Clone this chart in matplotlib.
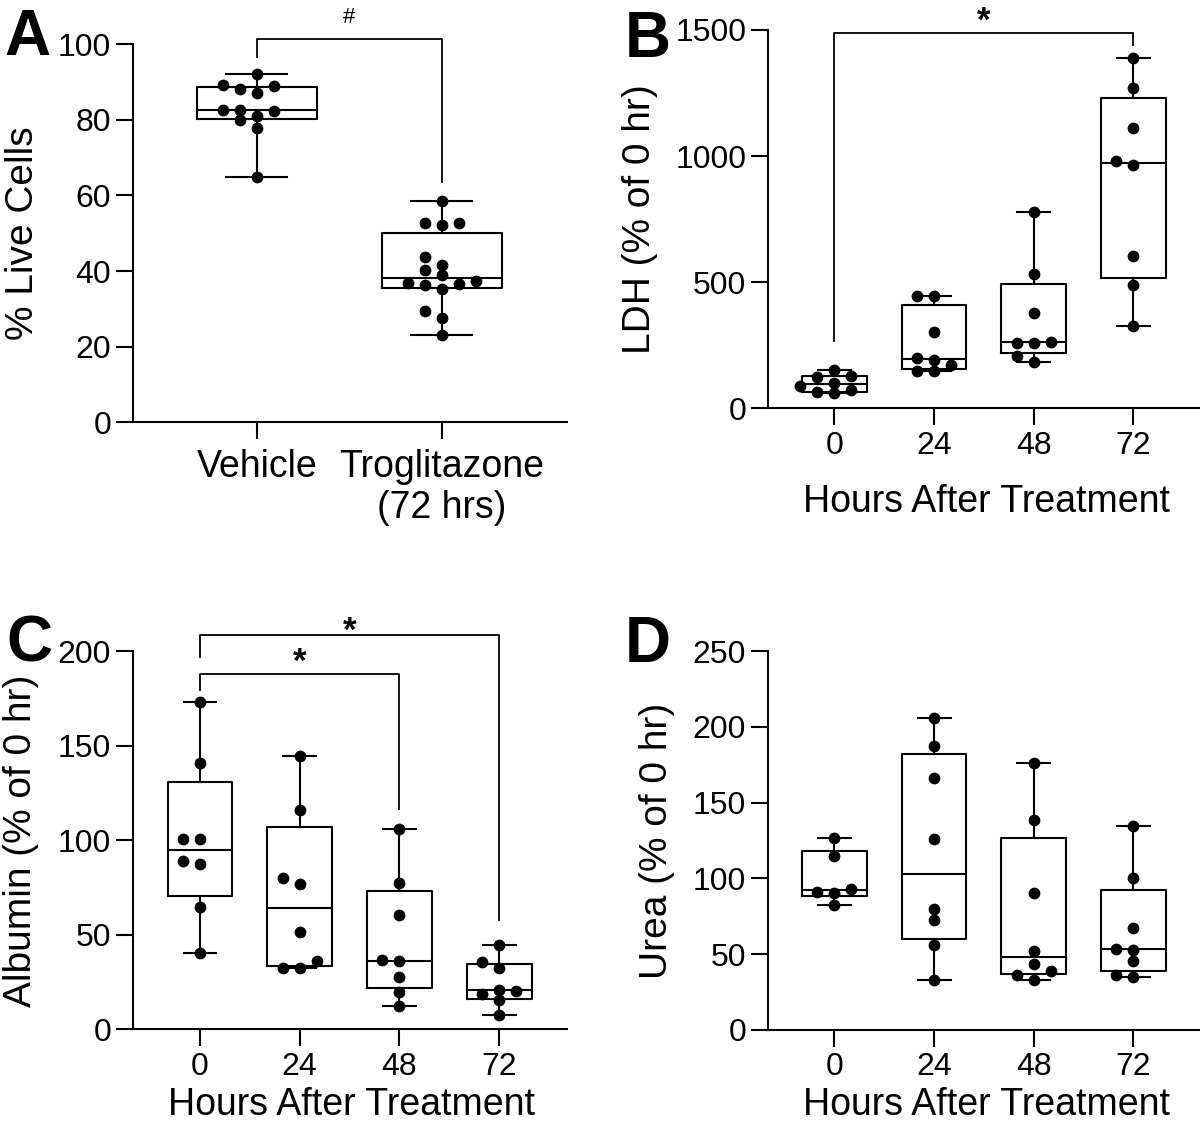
import numpy as np
import matplotlib
matplotlib.use('Agg')
import matplotlib.pyplot as plt
from matplotlib.transforms import offset_copy

plt.rcParams['font.family'] = ['Liberation Sans', 'DejaVu Sans']

# データ (値は図から読み取り)
a_groups = ['Vehicle', 'Troglitazone\n(72 hrs)']
vehicle = [92.1, 89.3, 88.9, 88.0, 87.0, 82.7, 82.7, 82.3, 81.1, 79.9, 77.9, 64.9]
trog = [58.6, 52.7, 52.2, 52.7, 43.8, 41.7, 40.4, 39.0, 37.4, 36.9, 36.7, 36.4,
        35.3, 29.4, 27.6, 23.1]

hours = ['0', '24', '48', '72']
ldh_0 = [152, 130, 125, 102, 88, 72, 63, 60]
ldh_24 = [447, 445, 303, 198, 191, 173, 148, 148]
ldh_48 = [779, 533, 376, 262, 260, 257, 209, 182]
ldh_72 = [1389, 1268, 1113, 981, 963, 605, 488, 328]

alb_0 = [173, 141, 100.7, 100.7, 88.9, 87.6, 64.7, 40.6]
alb_24 = [144.7, 115.9, 80, 76.7, 51.7, 35.9, 32.6, 32.6]
alb_48 = [106, 77.4, 60.5, 36.5, 35.9, 27.5, 19.7, 12.3]
alb_72 = [44.8, 35.5, 32.2, 21, 20.1, 18.6, 15.4, 7.4]

urea_0 = [126.5, 114.9, 93.3, 91, 90.1, 82.4]
urea_24 = [206.1, 187.6, 166, 125.8, 79.6, 72.7, 55.7, 33.2]
urea_48 = [176, 138.3, 90.5, 52.2, 43.6, 38.8, 36, 33]
urea_72 = [134.6, 100.5, 66.9, 53.4, 52.7, 45.7, 36.4, 34.8]

# 有意差の括弧: (群1, 群2, 左脚の下端, 上端, 右脚の下端, 記号, 記号の高さ)
a_sig = [(0, 1, 96.6, 101.4, 63.6, '#', 107)]
b_sig = [(0, 3, 266, 1489, 1441, '*', 1575)]
c_sig = [(0, 3, 196.8, 208.6, 57.7, '*', 216.4),
         (0, 2, 179.7, 187.9, 116.5, '*', 199.6)]
d_sig = []

LW = 1.5
STEP_PX = 17
SEP_PX = 10


def swarm_x(ax, pos, values):
    # 点が重ならないように横にずらす
    p0 = ax.transData.transform((0, 0))
    p1 = ax.transData.transform((1, 1))
    xpu = p1[0] - p0[0]
    ypu = p1[1] - p0[1]
    order = np.argsort(values)
    placed = []
    xs = np.zeros(len(values))
    for i in order:
        y = values[i] * ypu
        for slot in [0, -1, 1, -2, 2, -3, 3]:
            if all(not (s == slot and abs(y - yy) < SEP_PX) for s, yy in placed):
                break
        placed.append((slot, y))
        xs[i] = pos + slot * STEP_PX / xpu
    return xs


def panel(ax, groups, labels, ymax, yticks, xlim, sig, ylabel):
    ax.set_xlim(*xlim)
    ax.set_ylim(0, ymax)
    pos = np.arange(len(groups))
    stats = []
    for g in groups:
        q1, med, q3 = np.percentile(g, [25, 50, 75], method='weibull')
        stats.append(dict(med=med, q1=q1, q3=q3, whislo=min(g), whishi=max(g), fliers=[]))
    lp = dict(color='black', linewidth=LW)
    ax.bxp(stats, positions=pos, widths=0.65, capwidths=0.33, showfliers=False,
           boxprops=lp, medianprops=lp, whiskerprops=lp, capprops=lp)
    for p, g in zip(pos, groups):
        ax.scatter(swarm_x(ax, p, g), g, s=72, color='black', zorder=3, linewidths=0)
    for x0, x1, y0, yt, y1, mark, ym in sig:
        ax.plot([x0, x0, x1, x1], [y0, yt, yt, y1], color='black', lw=1.3,
                clip_on=False)
        if mark == '#':
            ax.text((x0 + x1) / 2, ym, mark, ha='center', va='center', fontsize=16)
        else:
            tr = offset_copy(ax.transData, fig=ax.figure, y=-0.58 * 25, units='points')
            ax.text((x0 + x1) / 2, ym, mark, ha='center', va='baseline', fontsize=25,
                    fontweight='bold', transform=tr)
    ax.set_xticks(pos, labels)
    ax.set_yticks(yticks)
    for s in ['top', 'right']:
        ax.spines[s].set_visible(False)
    for s in ['left', 'bottom']:
        ax.spines[s].set_linewidth(LW)
    ax.tick_params(axis='both', length=12, width=LW, labelsize=23, color='black')
    ax.tick_params(axis='y', pad=4)
    ax.tick_params(axis='x', pad=4)
    ax.set_ylabel(ylabel, fontsize=28, va='center')


fig = plt.figure(figsize=(12, 11.31), dpi=100)
axA = fig.add_axes([0.1111, 0.6266, 0.3612, 0.3344])
axB = fig.add_axes([0.6403, 0.6390, 0.3606, 0.3345])
axC = fig.add_axes([0.1111, 0.0899, 0.3612, 0.3342])
axD = fig.add_axes([0.6403, 0.0895, 0.3606, 0.3347])

panel(axA, [vehicle, trog], a_groups, 100, np.arange(0, 101, 20), (-0.667, 1.676),
      a_sig, '% Live Cells')
axA.tick_params(axis='x', labelsize=27, pad=7)
axA.yaxis.set_label_coords(-0.2545, 0.5)

panel(axB, [ldh_0, ldh_24, ldh_48, ldh_72], hours, 1500, np.arange(0, 1501, 500),
      (-0.662, 3.678), b_sig, 'LDH (% of 0 hr)')
axB.yaxis.set_label_coords(-0.2965, 0.5)
axB.set_xlabel('Hours After Treatment', fontsize=27, va='center')
axB.xaxis.set_label_coords(0.503, -0.247)

panel(axC, [alb_0, alb_24, alb_48, alb_72], hours, 200, np.arange(0, 201, 50),
      (-0.669, 3.678), c_sig, 'Albumin (% of 0 hr)')
axC.yaxis.set_label_coords(-0.259, 0.5)
axC.set_xlabel('Hours After Treatment', fontsize=27, va='center')
axC.xaxis.set_label_coords(0.503, -0.2)

panel(axD, [urea_0, urea_24, urea_48, urea_72], hours, 250, np.arange(0, 251, 50),
      (-0.662, 3.678), d_sig, 'Urea (% of 0 hr)')
axD.yaxis.set_label_coords(-0.257, 0.5)
axD.set_xlabel('Hours After Treatment', fontsize=27, va='center')
axD.xaxis.set_label_coords(0.503, -0.2)

# パネル記号
for letter, x, y in [('A', 4, 55), ('B', 625, 57), ('C', 6, 661), ('D', 625, 662)]:
    fig.text(x / 1200, 1 - y / 1131, letter, fontsize=46, fontweight='bold',
             ha='left', va='baseline')

fig.savefig('out.png', dpi=100)
plt.close(fig)
